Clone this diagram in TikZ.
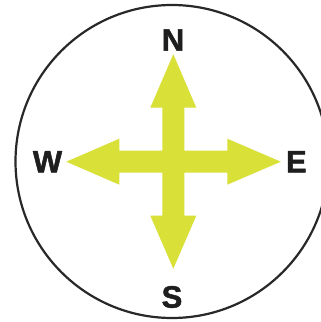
\documentclass[tikz,border=0pt]{standalone}
\usepackage{fontspec}
\setmainfont{Liberation Sans}
\newfontfamily\heavyfont[FakeBold=1.6]{Liberation Sans Bold}
\definecolor{arrowgreen}{RGB}{217,224,56}
\definecolor{ringgray}{RGB}{40,40,40}
\definecolor{lettergray}{RGB}{30,30,30}
\begin{document}
\begin{tikzpicture}[x=1pt,y=-1pt,
  ring/.style={draw=ringgray,line width=2.2pt},
  cross/.style={fill=arrowgreen,draw=none},
  dirlabel/.style={font=\heavyfont\fontsize{31}{31}\selectfont,text=lettergray,inner sep=0pt,anchor=center}]
\useasboundingbox (0,0) rectangle (321,322);
\fill[white] (0,0) rectangle (321,322);
\coordinate (c) at (173.3,161.7);
\draw[ring] (172,161.5) circle[radius=156.5];
\begin{scope}[shift={(c)}]
\fill[cross] (0,-107.5) -- (23,-54) -- (11,-54) -- (11,-11) -- (54,-11) -- (54,-23)
  -- (107.5,0) -- (54,23) -- (54,11) -- (11,11) -- (11,54) -- (23,54)
  -- (0,107) -- (-23,54) -- (-11,54) -- (-11,11) -- (-54,11) -- (-54,23)
  -- (-107,0) -- (-54,-23) -- (-54,-11) -- (-11,-11) -- (-11,-54) -- (-23,-54) -- cycle;
\end{scope}
\node[dirlabel] (n) at (173,40) {N};
\node[dirlabel] (s) at (172,297) {S};
\node[dirlabel] (w) at (47.5,161.7) {W};
\node[dirlabel] (e) at (296.3,161.7) {E};
\end{tikzpicture}
\end{document}
